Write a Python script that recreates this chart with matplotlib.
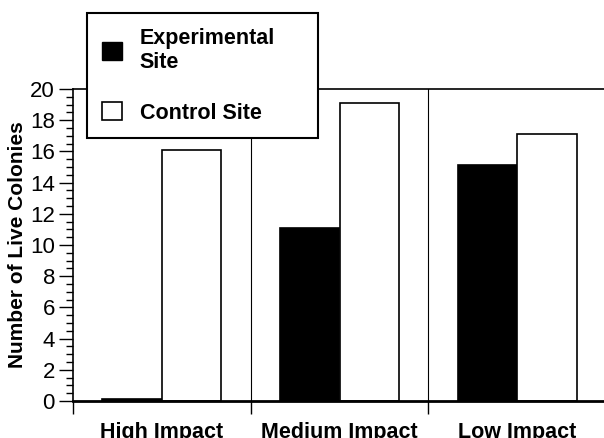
import matplotlib
matplotlib.use("Agg")
import matplotlib.pyplot as plt
from matplotlib.patches import Patch
from matplotlib.ticker import MultipleLocator, FixedLocator
import numpy as np

''' Data
'''
groups = ["High Impact", "Medium Impact", "Low Impact"]
experimental = [0.15, 11.1, 15.1]
control = [16.1, 19.1, 17.1]
series_names = ["Experimental\nSite", "Control Site"]

plt.rcParams['font.family'] = ['Liberation Sans', 'DejaVu Sans']

fig = plt.figure(figsize=(6.04, 4.38), dpi=100)
ax = fig.add_axes([73/604, 1 - 401/438, 533/604, 312/438])

x = np.arange(len(groups))
w = 0.335
ax.bar(x - w/2, experimental, w, color="black", edgecolor="black", linewidth=1.2)
ax.bar(x + w/2, control, w, color="white", edgecolor="black", linewidth=1.2)

# group dividers
for d in [0.5, 1.5]:
    ax.axvline(d, color="black", lw=0.8, zorder=0)

ax.set_xlim(-0.5, 2.5)
ax.set_ylim(0, 20)

ax.spines['right'].set_visible(False)
ax.spines['bottom'].set_linewidth(2)
ax.spines['left'].set_linewidth(1.2)
ax.spines['top'].set_linewidth(1.2)

ax.yaxis.set_major_locator(MultipleLocator(2))
ax.yaxis.set_minor_locator(MultipleLocator(0.5))
ax.tick_params(axis='y', which='major', length=10, width=1, labelsize=16, pad=3)
ax.tick_params(axis='y', which='minor', length=5, width=1)

ax.xaxis.set_major_locator(FixedLocator([-0.5, 0.5, 1.5]))
ax.xaxis.set_minor_locator(FixedLocator(x))
ax.set_xticklabels([], minor=False)
ax.set_xticklabels(groups, minor=True, fontweight='bold', fontsize=15.5)
ax.tick_params(axis='x', which='major', length=9, width=1)
ax.tick_params(axis='x', which='minor', length=0, pad=15)

ax.set_ylabel("Number of Live Colonies", fontweight='bold', fontsize=15)
ax.yaxis.set_label_coords(-0.086, 0.5)

handles = [Patch(facecolor="black", edgecolor="black"),
           Patch(facecolor="white", edgecolor="black", linewidth=1.2)]
leg = ax.legend(handles, series_names, loc='upper left', mode='expand',
                bbox_to_anchor=(87/604, 1 - 135/438, 231/604, 122/438),
                bbox_transform=fig.transFigure,
                fancybox=False, framealpha=1, edgecolor='black',
                prop={'weight': 'bold', 'size': 15.5},
                handlelength=0.93, handleheight=0.95, handletextpad=0.84,
                borderpad=0.68, labelspacing=1.35, borderaxespad=0)
leg.get_frame().set_linewidth(1.5)
leg.set_zorder(10)

fig.savefig("out.png", dpi=100)
